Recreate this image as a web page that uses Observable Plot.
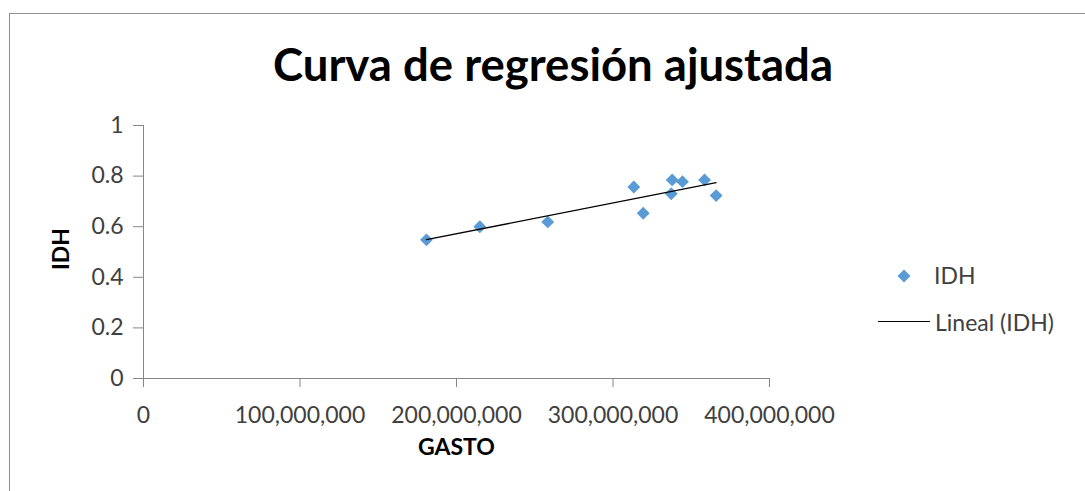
<!DOCTYPE html>
<html><head><meta charset="utf-8">
<script src="https://cdn.jsdelivr.net/npm/d3@7"></script>
<script src="https://cdn.jsdelivr.net/npm/@observablehq/plot@0.6"></script>
<style>
body{margin:0;background:#fff;font-family:Lato,sans-serif}
#wrap{position:relative;width:1085px;height:491px;overflow:hidden}
#border{position:absolute;left:9px;top:13px;width:1200px;height:600px;border-left:1px solid #8e8e8e;border-top:1px solid #8e8e8e;box-sizing:border-box}
#title{position:absolute;left:0;top:41px;width:1106px;text-align:center;font-weight:bold;font-size:45.5px;line-height:45px;color:#000;white-space:nowrap}
#chart{position:absolute;left:0;top:0}
.leg{position:absolute;font-size:23px;line-height:23px;color:#404040;white-space:nowrap}
</style></head>
<body>
<div id="wrap">
  <div id="border"></div>
  <div id="title">Curva de regresión ajustada</div>
  <div id="chart"></div>
  <svg style="position:absolute;left:0;top:0" width="1085" height="491">
    <path d="M904,269.5L910.5,276L904,282.5L897.5,276Z" fill="#5b9bd5"/>
    <line x1="878" x2="930" y1="321.5" y2="321.5" stroke="#000" stroke-width="1.2"/>
  </svg>
  <div class="leg" id="leg1" style="left:934px;top:264px">IDH</div>
  <div class="leg" id="leg2" style="left:935px;top:311px">Lineal (IDH)</div>
</div>
<script>
const gasto = [180.8e6, 214.9e6, 258.3e6, 313.3e6, 319.3e6, 337.8e6, 337.2e6, 344.4e6, 358.5e6, 365.9e6];
const idh   = [0.548, 0.600, 0.619, 0.757, 0.653, 0.785, 0.730, 0.778, 0.785, 0.723];
const xTicks = [0, 100000000, 200000000, 300000000, 400000000];
const yTicks = [0, 0.2, 0.4, 0.6, 0.8, 1];
const xLabel = "GASTO";
const yLabel = "IDH";

const data = gasto.map((g, i) => ({gasto: g, idh: idh[i]}));
const axisGrey = "#868686";
const textCol = "#404040";

const chart = Plot.plot({
  width: 1085, height: 491,
  marginTop: 125, marginBottom: 113, marginLeft: 143, marginRight: 316,
  x: {domain: [0, 400000000]},
  y: {domain: [0, 1]},
  style: {fontFamily: "Lato, sans-serif", background: "transparent", overflow: "visible"},
  marks: [
    Plot.axisX({ticks: xTicks, tickFormat: d3.format(","), tickSize: 9, tickPadding: 19, stroke: axisGrey, fill: textCol, fontSize: 23, label: null}),
    Plot.axisY({ticks: yTicks, tickFormat: d => String(d), tickSize: 10, tickPadding: 10, stroke: axisGrey, fill: textCol, fontSize: 23, label: null}),
    Plot.ruleY([0], {stroke: axisGrey}),
    Plot.ruleX([0], {stroke: axisGrey}),
    Plot.dot(data, {x: "gasto", y: "idh", symbol: "diamond2", r: 5.8, fill: "#5b9bd5", stroke: "none"}),
    Plot.linearRegressionY(data, {x: "gasto", y: "idh", stroke: "#000", strokeWidth: 1.3, ci: 0}),
    Plot.text([xLabel], {frameAnchor: "bottom", dy: 76, fontWeight: "bold", fontSize: 23, fill: "#000"}),
    Plot.text([yLabel], {frameAnchor: "left", dx: -82, dy: 18, rotate: -90, fontWeight: "bold", fontSize: 23, fill: "#000"})
  ]
});
document.getElementById("chart").appendChild(chart);
</script>
</body></html>
